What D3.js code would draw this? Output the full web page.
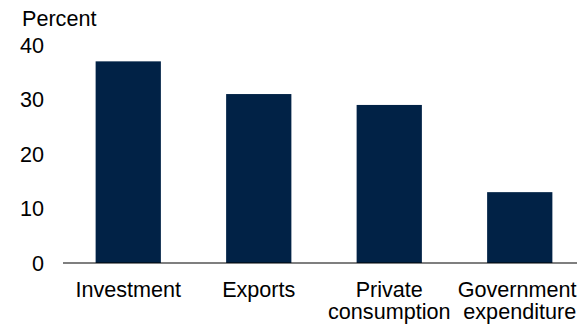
<!DOCTYPE html>
<html>
<head>
<meta charset="utf-8">
<script src="https://cdn.jsdelivr.net/npm/d3@7"></script>
<style>
  html, body { margin: 0; padding: 0; background: #fff; }
  svg { display: block; font-family: "Liberation Sans", Arial, sans-serif; }
</style>
</head>
<body>
<svg id="chart" width="577" height="329"></svg>
<script>
// Contributions by expenditure component, percent
const categories = ["Investment", "Exports", "Private consumption", "Government expenditure"];
const categoryLines = [["Investment"], ["Exports"], ["Private", "consumption"], ["Government", "expenditure"]];
const values = [37, 31, 29, 13];
const yTicks = [0, 10, 20, 30, 40];
const unitLabel = "Percent";

const W = 577, H = 329;
const svg = d3.select("#chart");
const fontSize = 21.6;
const lineGap = 21.6;
const barColor = "#012246";

const x = d3.scaleBand()
  .domain(categories)
  .range([63, 585])
  .paddingInner(0.5)
  .paddingOuter(0.25);

const y = d3.scaleLinear()
  .domain([0, 40])
  .range([263, 45]);

// bars
svg.append("g")
  .selectAll("rect")
  .data(values)
  .join("rect")
  .attr("x", (d, i) => x(categories[i]))
  .attr("width", x.bandwidth())
  .attr("y", d => y(d))
  .attr("height", d => y(0) - y(d))
  .attr("fill", barColor);

// y tick labels
svg.append("g")
  .selectAll("text")
  .data(yTicks)
  .join("text")
  .attr("x", 44)
  .attr("y", d => y(d))
  .attr("dy", "0.35em")
  .attr("text-anchor", "end")
  .attr("font-size", fontSize)
  .attr("fill", "#000")
  .text(d => d);

// unit label
svg.append("text")
  .attr("x", 22)
  .attr("y", 26)
  .attr("font-size", fontSize)
  .attr("fill", "#000")
  .text(unitLabel);

// baseline
svg.append("line")
  .attr("x1", 63)
  .attr("x2", W)
  .attr("y1", y(0))
  .attr("y2", y(0))
  .attr("stroke", "#000")
  .attr("stroke-width", 1.2);

// category labels, one text element per line
const labelLines = categories.flatMap((c, i) =>
  categoryLines[i].map((line, j) => ({ c, line, j })));

svg.append("g")
  .selectAll("text")
  .data(labelLines)
  .join("text")
  .attr("x", d => x(d.c) + x.bandwidth() / 2)
  .attr("y", d => 297 + d.j * lineGap)
  .attr("text-anchor", "middle")
  .attr("font-size", fontSize)
  .attr("fill", "#000")
  .text(d => d.line)
  .each(function(d) {
    // keep a label inside the right edge
    const cx = x(d.c) + x.bandwidth() / 2;
    const half = this.getComputedTextLength() / 2;
    if (cx + half > W - 0.5) d3.select(this).attr("x", W - 0.5 - half);
  });
</script>
</body>
</html>
